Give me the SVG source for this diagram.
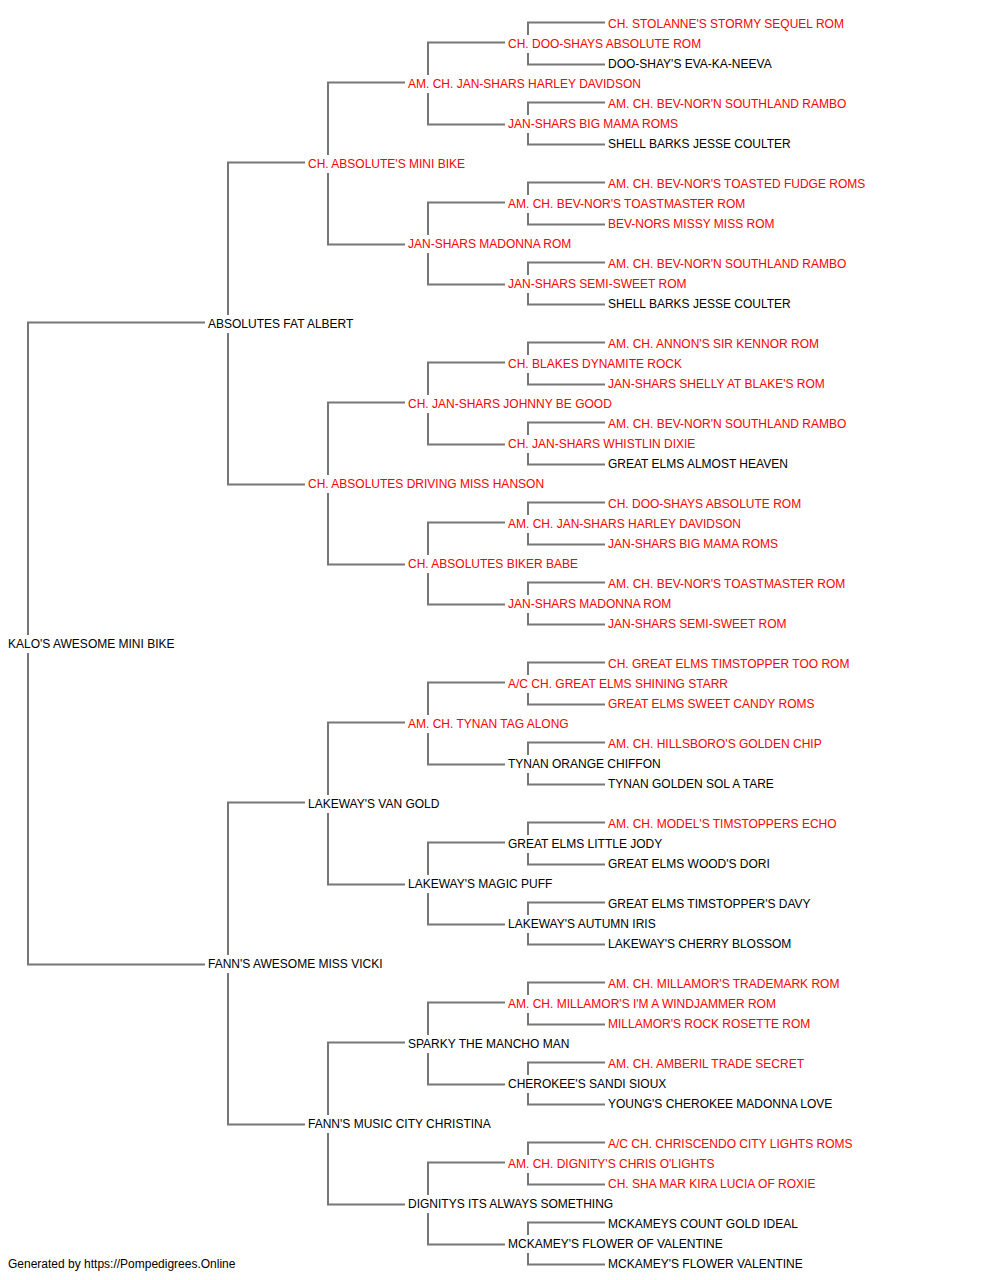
<svg xmlns="http://www.w3.org/2000/svg" width="1000" height="1280" viewBox="0 0 1000 1280">
<style>
text{font-family:"Liberation Sans",Arial,sans-serif;font-size:12px;fill:#000}
.r{fill:#ff0000}
.c path{fill:none;stroke:#777;stroke-width:2}
</style>
<rect width="1000" height="1280" fill="#fff"/>
<g class="c" id="connectors">
<path d="M205 322.5H28V635M28 653V964.5H205"/>
<path d="M305 162.5H228V315M228 333V484.5H305"/>
<path d="M305 802.5H228V955M228 973V1124.5H305"/>
<path d="M405 82.5H328V155M328 173V244.5H405"/>
<path d="M405 402.5H328V475M328 493V564.5H405"/>
<path d="M405 722.5H328V795M328 813V884.5H405"/>
<path d="M405 1042.5H328V1115M328 1133V1204.5H405"/>
<path d="M505 42.5H428V75M428 93V124.5H505"/>
<path d="M505 202.5H428V235M428 253V284.5H505"/>
<path d="M505 362.5H428V395M428 413V444.5H505"/>
<path d="M505 522.5H428V555M428 573V604.5H505"/>
<path d="M505 682.5H428V715M428 733V764.5H505"/>
<path d="M505 842.5H428V875M428 893V924.5H505"/>
<path d="M505 1002.5H428V1035M428 1053V1084.5H505"/>
<path d="M505 1162.5H428V1195M428 1213V1244.5H505"/>
<path d="M605 22.5H528V35M528 53V64.5H605"/>
<path d="M605 102.5H528V115M528 133V144.5H605"/>
<path d="M605 182.5H528V195M528 213V224.5H605"/>
<path d="M605 262.5H528V275M528 293V304.5H605"/>
<path d="M605 342.5H528V355M528 373V384.5H605"/>
<path d="M605 422.5H528V435M528 453V464.5H605"/>
<path d="M605 502.5H528V515M528 533V544.5H605"/>
<path d="M605 582.5H528V595M528 613V624.5H605"/>
<path d="M605 662.5H528V675M528 693V704.5H605"/>
<path d="M605 742.5H528V755M528 773V784.5H605"/>
<path d="M605 822.5H528V835M528 853V864.5H605"/>
<path d="M605 902.5H528V915M528 933V944.5H605"/>
<path d="M605 982.5H528V995M528 1013V1024.5H605"/>
<path d="M605 1062.5H528V1075M528 1093V1104.5H605"/>
<path d="M605 1142.5H528V1155M528 1173V1184.5H605"/>
<path d="M605 1222.5H528V1235M528 1253V1264.5H605"/>
</g>
<g id="g0"><text x="8" y="647.5">KALO'S AWESOME MINI BIKE</text></g>
<g id="g1a"><text x="208" y="327.5">ABSOLUTES FAT ALBERT</text></g>
<g id="g1b"><text x="208" y="967.5">FANN'S AWESOME MISS VICKI</text></g>
<g id="g2a"><text class="r" x="308" y="167.5">CH. ABSOLUTE'S MINI BIKE</text></g>
<g id="g2b"><text class="r" x="308" y="487.5">CH. ABSOLUTES DRIVING MISS HANSON</text></g>
<g id="g2c"><text x="308" y="807.5">LAKEWAY'S VAN GOLD</text></g>
<g id="g2d"><text x="308" y="1127.5">FANN'S MUSIC CITY CHRISTINA</text></g>
<g id="g3a"><text class="r" x="408" y="87.5">AM. CH. JAN-SHARS HARLEY DAVIDSON</text></g>
<g id="g3b"><text class="r" x="408" y="247.5">JAN-SHARS MADONNA ROM</text></g>
<g id="g3c"><text class="r" x="408" y="407.5">CH. JAN-SHARS JOHNNY BE GOOD</text></g>
<g id="g3d"><text class="r" x="408" y="567.5">CH. ABSOLUTES BIKER BABE</text></g>
<g id="g3e"><text class="r" x="408" y="727.5">AM. CH. TYNAN TAG ALONG</text></g>
<g id="g3f"><text x="408" y="887.5">LAKEWAY'S MAGIC PUFF</text></g>
<g id="g3g"><text x="408" y="1047.5">SPARKY THE MANCHO MAN</text></g>
<g id="g3h"><text x="408" y="1207.5">DIGNITYS ITS ALWAYS SOMETHING</text></g>
<g id="g4a"><text class="r" x="508" y="47.5">CH. DOO-SHAYS ABSOLUTE ROM</text></g>
<g id="g4b"><text class="r" x="508" y="127.5">JAN-SHARS BIG MAMA ROMS</text></g>
<g id="g4c"><text class="r" x="508" y="207.5">AM. CH. BEV-NOR'S TOASTMASTER ROM</text></g>
<g id="g4d"><text class="r" x="508" y="287.5">JAN-SHARS SEMI-SWEET ROM</text></g>
<g id="g4e"><text class="r" x="508" y="367.5">CH. BLAKES DYNAMITE ROCK</text></g>
<g id="g4f"><text class="r" x="508" y="447.5">CH. JAN-SHARS WHISTLIN DIXIE</text></g>
<g id="g4g"><text class="r" x="508" y="527.5">AM. CH. JAN-SHARS HARLEY DAVIDSON</text></g>
<g id="g4h"><text class="r" x="508" y="607.5">JAN-SHARS MADONNA ROM</text></g>
<g id="g4i"><text class="r" x="508" y="687.5">A/C CH. GREAT ELMS SHINING STARR</text></g>
<g id="g4j"><text x="508" y="767.5">TYNAN ORANGE CHIFFON</text></g>
<g id="g4k"><text x="508" y="847.5">GREAT ELMS LITTLE JODY</text></g>
<g id="g4l"><text x="508" y="927.5">LAKEWAY'S AUTUMN IRIS</text></g>
<g id="g4m"><text class="r" x="508" y="1007.5">AM. CH. MILLAMOR'S I'M A WINDJAMMER ROM</text></g>
<g id="g4n"><text x="508" y="1087.5">CHEROKEE'S SANDI SIOUX</text></g>
<g id="g4o"><text class="r" x="508" y="1167.5">AM. CH. DIGNITY'S CHRIS O'LIGHTS</text></g>
<g id="g4p"><text x="508" y="1247.5">MCKAMEY'S FLOWER OF VALENTINE</text></g>
<g id="g5-00"><text class="r" x="608" y="27.5">CH. STOLANNE'S STORMY SEQUEL ROM</text></g>
<g id="g5-01"><text x="608" y="67.5">DOO-SHAY'S EVA-KA-NEEVA</text></g>
<g id="g5-02"><text class="r" x="608" y="107.5">AM. CH. BEV-NOR'N SOUTHLAND RAMBO</text></g>
<g id="g5-03"><text x="608" y="147.5">SHELL BARKS JESSE COULTER</text></g>
<g id="g5-04"><text class="r" x="608" y="187.5">AM. CH. BEV-NOR'S TOASTED FUDGE ROMS</text></g>
<g id="g5-05"><text class="r" x="608" y="227.5">BEV-NORS MISSY MISS ROM</text></g>
<g id="g5-06"><text class="r" x="608" y="267.5">AM. CH. BEV-NOR'N SOUTHLAND RAMBO</text></g>
<g id="g5-07"><text x="608" y="307.5">SHELL BARKS JESSE COULTER</text></g>
<g id="g5-08"><text class="r" x="608" y="347.5">AM. CH. ANNON'S SIR KENNOR ROM</text></g>
<g id="g5-09"><text class="r" x="608" y="387.5">JAN-SHARS SHELLY AT BLAKE'S ROM</text></g>
<g id="g5-10"><text class="r" x="608" y="427.5">AM. CH. BEV-NOR'N SOUTHLAND RAMBO</text></g>
<g id="g5-11"><text x="608" y="467.5">GREAT ELMS ALMOST HEAVEN</text></g>
<g id="g5-12"><text class="r" x="608" y="507.5">CH. DOO-SHAYS ABSOLUTE ROM</text></g>
<g id="g5-13"><text class="r" x="608" y="547.5">JAN-SHARS BIG MAMA ROMS</text></g>
<g id="g5-14"><text class="r" x="608" y="587.5">AM. CH. BEV-NOR'S TOASTMASTER ROM</text></g>
<g id="g5-15"><text class="r" x="608" y="627.5">JAN-SHARS SEMI-SWEET ROM</text></g>
<g id="g5-16"><text class="r" x="608" y="667.5">CH. GREAT ELMS TIMSTOPPER TOO ROM</text></g>
<g id="g5-17"><text class="r" x="608" y="707.5">GREAT ELMS SWEET CANDY ROMS</text></g>
<g id="g5-18"><text class="r" x="608" y="747.5">AM. CH. HILLSBORO'S GOLDEN CHIP</text></g>
<g id="g5-19"><text x="608" y="787.5">TYNAN GOLDEN SOL A TARE</text></g>
<g id="g5-20"><text class="r" x="608" y="827.5">AM. CH. MODEL'S TIMSTOPPERS ECHO</text></g>
<g id="g5-21"><text x="608" y="867.5">GREAT ELMS WOOD'S DORI</text></g>
<g id="g5-22"><text x="608" y="907.5">GREAT ELMS TIMSTOPPER'S DAVY</text></g>
<g id="g5-23"><text x="608" y="947.5">LAKEWAY'S CHERRY BLOSSOM</text></g>
<g id="g5-24"><text class="r" x="608" y="987.5">AM. CH. MILLAMOR'S TRADEMARK ROM</text></g>
<g id="g5-25"><text class="r" x="608" y="1027.5">MILLAMOR'S ROCK ROSETTE ROM</text></g>
<g id="g5-26"><text class="r" x="608" y="1067.5">AM. CH. AMBERIL TRADE SECRET</text></g>
<g id="g5-27"><text x="608" y="1107.5">YOUNG'S CHEROKEE MADONNA LOVE</text></g>
<g id="g5-28"><text class="r" x="608" y="1147.5">A/C CH. CHRISCENDO CITY LIGHTS ROMS</text></g>
<g id="g5-29"><text class="r" x="608" y="1187.5">CH. SHA MAR KIRA LUCIA OF ROXIE</text></g>
<g id="g5-30"><text x="608" y="1227.5">MCKAMEYS COUNT GOLD IDEAL</text></g>
<g id="g5-31"><text x="608" y="1267.5">MCKAMEY'S FLOWER VALENTINE</text></g>
<g id="footer"><text x="8" y="1267.5">Generated by https://Pompedigrees.Online</text></g>
</svg>
